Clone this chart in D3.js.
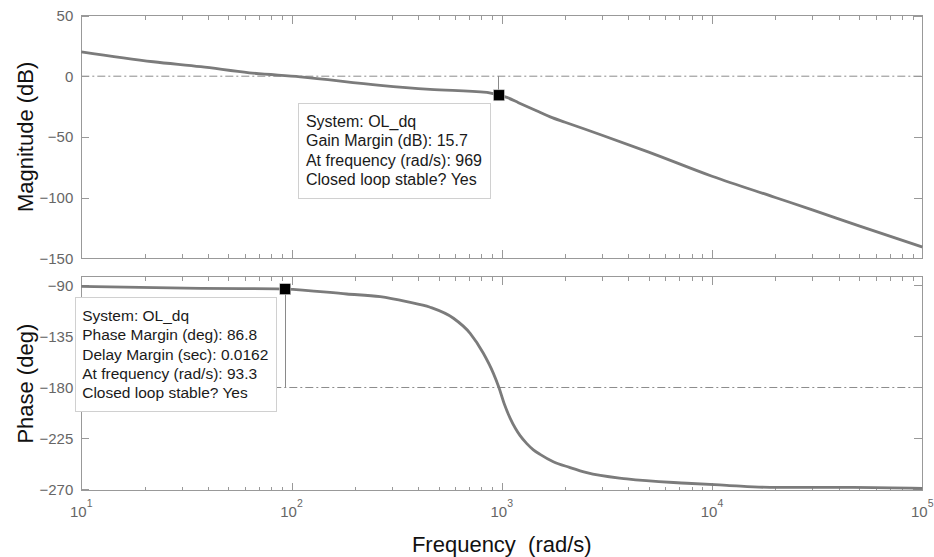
<!DOCTYPE html>
<html>
<head>
<meta charset="utf-8">
<script src="https://cdn.jsdelivr.net/npm/d3@7"></script>
<style>
  body { margin: 0; background: #fff; }
  svg { display: block; font-family: "Liberation Sans", Arial, sans-serif; }
</style>
</head>
<body>
<svg id="chart" width="934" height="557"></svg>
<script>
// Open-loop frequency response of OL_dq
const magFreq  = [10, 22, 37, 63, 110, 264, 456, 849, 969, 1057, 1200, 1500, 1700, 2000, 3000, 5000, 10000, 20000, 30000, 50000, 100000];
const magDb    = [20.1, 11.9, 7.8, 2.8, -0.5, -7.5, -10.8, -13.4, -15.7, -17.5, -21.8, -29.3, -33.5, -37.9, -48.6, -62.5, -82.4, -99.9, -110.1, -123.3, -140.7];

const phaseFreq = [10, 37, 85, 93.3, 183, 264, 353, 456, 589, 707, 817, 912, 969, 1030, 1095, 1160, 1222, 1315, 1413, 1521, 1758, 2100, 2535, 3933, 7586, 11750, 18890, 47100, 100000];
const phaseDeg  = [-90.7, -92.5, -93.0, -93.2, -97.5, -99.9, -104.3, -109.2, -118.9, -132.2, -149.8, -167.5, -180, -195, -207, -216, -222.5, -229.5, -235, -239, -245.5, -250.5, -255.2, -260.7, -264.5, -266.3, -268.1, -268.1, -269.0];

const decadeTicks = [10, 100, 1000, 10000, 100000];
const decadeExponents = ["1", "2", "3", "4", "5"];
const magTicks = [50, 0, -50, -100, -150];
const phaseTicks = [-90, -135, -180, -225, -270];

const systemName = "OL_dq";
const gainMargin = { freq: 969, db: 15.7 };
const phaseMargin = { freq: 93.3, deg: 86.8, delay: 0.0162 };

const AXIS = "#999999", TICKTXT = "#666666", CURVE = "#7b7b7b";

const svg = d3.select("#chart");

const x = d3.scaleLog().domain([10, 1e5]).range([81.3, 922.3]);
const yMag = d3.scaleLinear().domain([-150, 50]).range([258.3, 15.5]);
const yPh = d3.scaleLinear().domain([-271.06, -82.24]).range([490.7, 276.7]);

const minorTicks = [];
decadeTicks.slice(0, -1).forEach(d => { for (let k = 2; k <= 9; k++) minorTicks.push(d * k); });

const panels = [
  { y: yMag, ticks: magTicks, ref: 0, label: "Magnitude (dB)", freq: magFreq, vals: magDb },
  { y: yPh, ticks: phaseTicks, ref: -180, label: "Phase (deg)", freq: phaseFreq, vals: phaseDeg }
];

function styleAxis(g) {
  g.select(".domain").remove();
  g.selectAll(".tick line").attr("stroke", AXIS).attr("shape-rendering", "crispEdges");
  g.selectAll(".tick text").attr("fill", TICKTXT);
  g.attr("font-size", 15).attr("font-family", "'Liberation Sans', Arial, sans-serif");
}

panels.forEach(p => {
  const top = p.y.range()[1], bottom = p.y.range()[0];
  const [x0, x1] = x.range();
  const g = svg.append("g");

  // reference line (0 dB / -180 deg)
  g.append("line")
    .attr("x1", x0).attr("x2", x1)
    .attr("y1", p.y(p.ref)).attr("y2", p.y(p.ref))
    .attr("stroke", "#8c8c8c").attr("stroke-width", 1)
    .attr("stroke-dasharray", "8,3,2,3");

  // frequency ticks on bottom and top edges, pointing inward
  g.append("g").attr("transform", `translate(0,${bottom})`)
    .call(d3.axisBottom(x).tickValues(decadeTicks).tickSize(-8).tickSizeOuter(0).tickFormat(""))
    .call(styleAxis);
  g.append("g").attr("transform", `translate(0,${bottom})`)
    .call(d3.axisBottom(x).tickValues(minorTicks).tickSize(-4).tickSizeOuter(0).tickFormat(""))
    .call(styleAxis);
  g.append("g").attr("transform", `translate(0,${top})`)
    .call(d3.axisTop(x).tickValues(decadeTicks).tickSize(-8).tickSizeOuter(0).tickFormat(""))
    .call(styleAxis);
  g.append("g").attr("transform", `translate(0,${top})`)
    .call(d3.axisTop(x).tickValues(minorTicks).tickSize(-4).tickSizeOuter(0).tickFormat(""))
    .call(styleAxis);

  // value ticks left (labelled) and right
  g.append("g").attr("transform", `translate(${x0},0)`)
    .call(d3.axisLeft(p.y).tickValues(p.ticks).tickSize(-8).tickSizeOuter(0).tickPadding(8))
    .call(styleAxis);
  g.append("g").attr("transform", `translate(${x1},0)`)
    .call(d3.axisRight(p.y).tickValues(p.ticks).tickSize(-8).tickSizeOuter(0).tickFormat(""))
    .call(styleAxis);

  // axes box
  g.append("rect")
    .attr("x", x0).attr("y", top)
    .attr("width", x1 - x0).attr("height", bottom - top)
    .attr("fill", "none").attr("stroke", AXIS).attr("shape-rendering", "crispEdges");

  // response curve
  const line = d3.line()
    .x((d, i) => x(p.freq[i]))
    .y(d => p.y(d))
    .curve(d3.curveMonotoneX);
  g.append("path")
    .attr("d", line(p.vals))
    .attr("fill", "none").attr("stroke", CURVE)
    .attr("stroke-width", 2.8).attr("stroke-linejoin", "round");

  // axis title
  g.append("text")
    .attr("transform", `translate(33,${(top + bottom) / 2}) rotate(-90)`)
    .attr("text-anchor", "middle")
    .attr("font-size", 22).attr("fill", "#111")
    .text(p.label);
});

// decade labels 10^n under the phase axes
const xl = svg.append("g").attr("fill", TICKTXT);
decadeTicks.forEach((d, i) => {
  const t = xl.append("text")
    .attr("x", x(d)).attr("y", 517.3)
    .attr("text-anchor", "middle")
    .style("font-size", "15px");
  t.append("tspan").style("font-size", "15px").text("10");
  t.append("tspan").attr("dy", -10).style("font-size", "10.5px").text(decadeExponents[i]);
});

svg.append("text")
  .attr("x", (x.range()[0] + x.range()[1]) / 2).attr("y", 551.5)
  .attr("text-anchor", "middle").attr("font-size", 22).attr("fill", "#111")
  .style("white-space", "pre")
  .text("Frequency  (rad/s)");

// stability margin data tips
function dataTip(cx, cy, refY, lines, fontPx) {
  const g = svg.append("g");
  g.append("line")
    .attr("x1", cx).attr("x2", cx).attr("y1", refY).attr("y2", cy)
    .attr("stroke", "#8a8a8a").attr("stroke-width", 1).attr("shape-rendering", "crispEdges");
  g.append("rect")
    .attr("x", cx - 5.5).attr("y", cy - 5.5).attr("width", 11).attr("height", 11)
    .attr("fill", "#000").attr("stroke", "#cfcfcf").attr("stroke-width", 0.6);

  const box = g.append("g");
  const rect = box.append("rect").attr("fill", "#fff").attr("stroke", "#d0d0d0").attr("shape-rendering", "crispEdges");
  const texts = lines.map((s, i) => box.append("text")
    .style("font-size", fontPx + "px").attr("fill", "#1a1a1a")
    .attr("x", 7).attr("y", 23.8 + i * 19.3).text(s));
  const w = d3.max(texts, t => t.node().getComputedTextLength()) + 15.2;
  const h = 23.8 + (lines.length - 1) * 19.3 + 13.3;
  rect.attr("width", w).attr("height", h);
  box.attr("transform", `translate(${cx - 8.7 - w},${cy + 8})`);
}

dataTip(x(gainMargin.freq), yMag(-gainMargin.db), yMag(0), [
  `System: ${systemName}`,
  `Gain Margin (dB): ${gainMargin.db}`,
  `At frequency (rad/s): ${gainMargin.freq}`,
  "Closed loop stable? Yes"
], 16);

dataTip(x(phaseMargin.freq), yPh(phaseMargin.deg - 180), yPh(-180), [
  `System: ${systemName}`,
  `Phase Margin (deg): ${phaseMargin.deg}`,
  `Delay Margin (sec): ${phaseMargin.delay}`,
  `At frequency (rad/s): ${phaseMargin.freq}`,
  "Closed loop stable? Yes"
], 15.5);
</script>
</body>
</html>
